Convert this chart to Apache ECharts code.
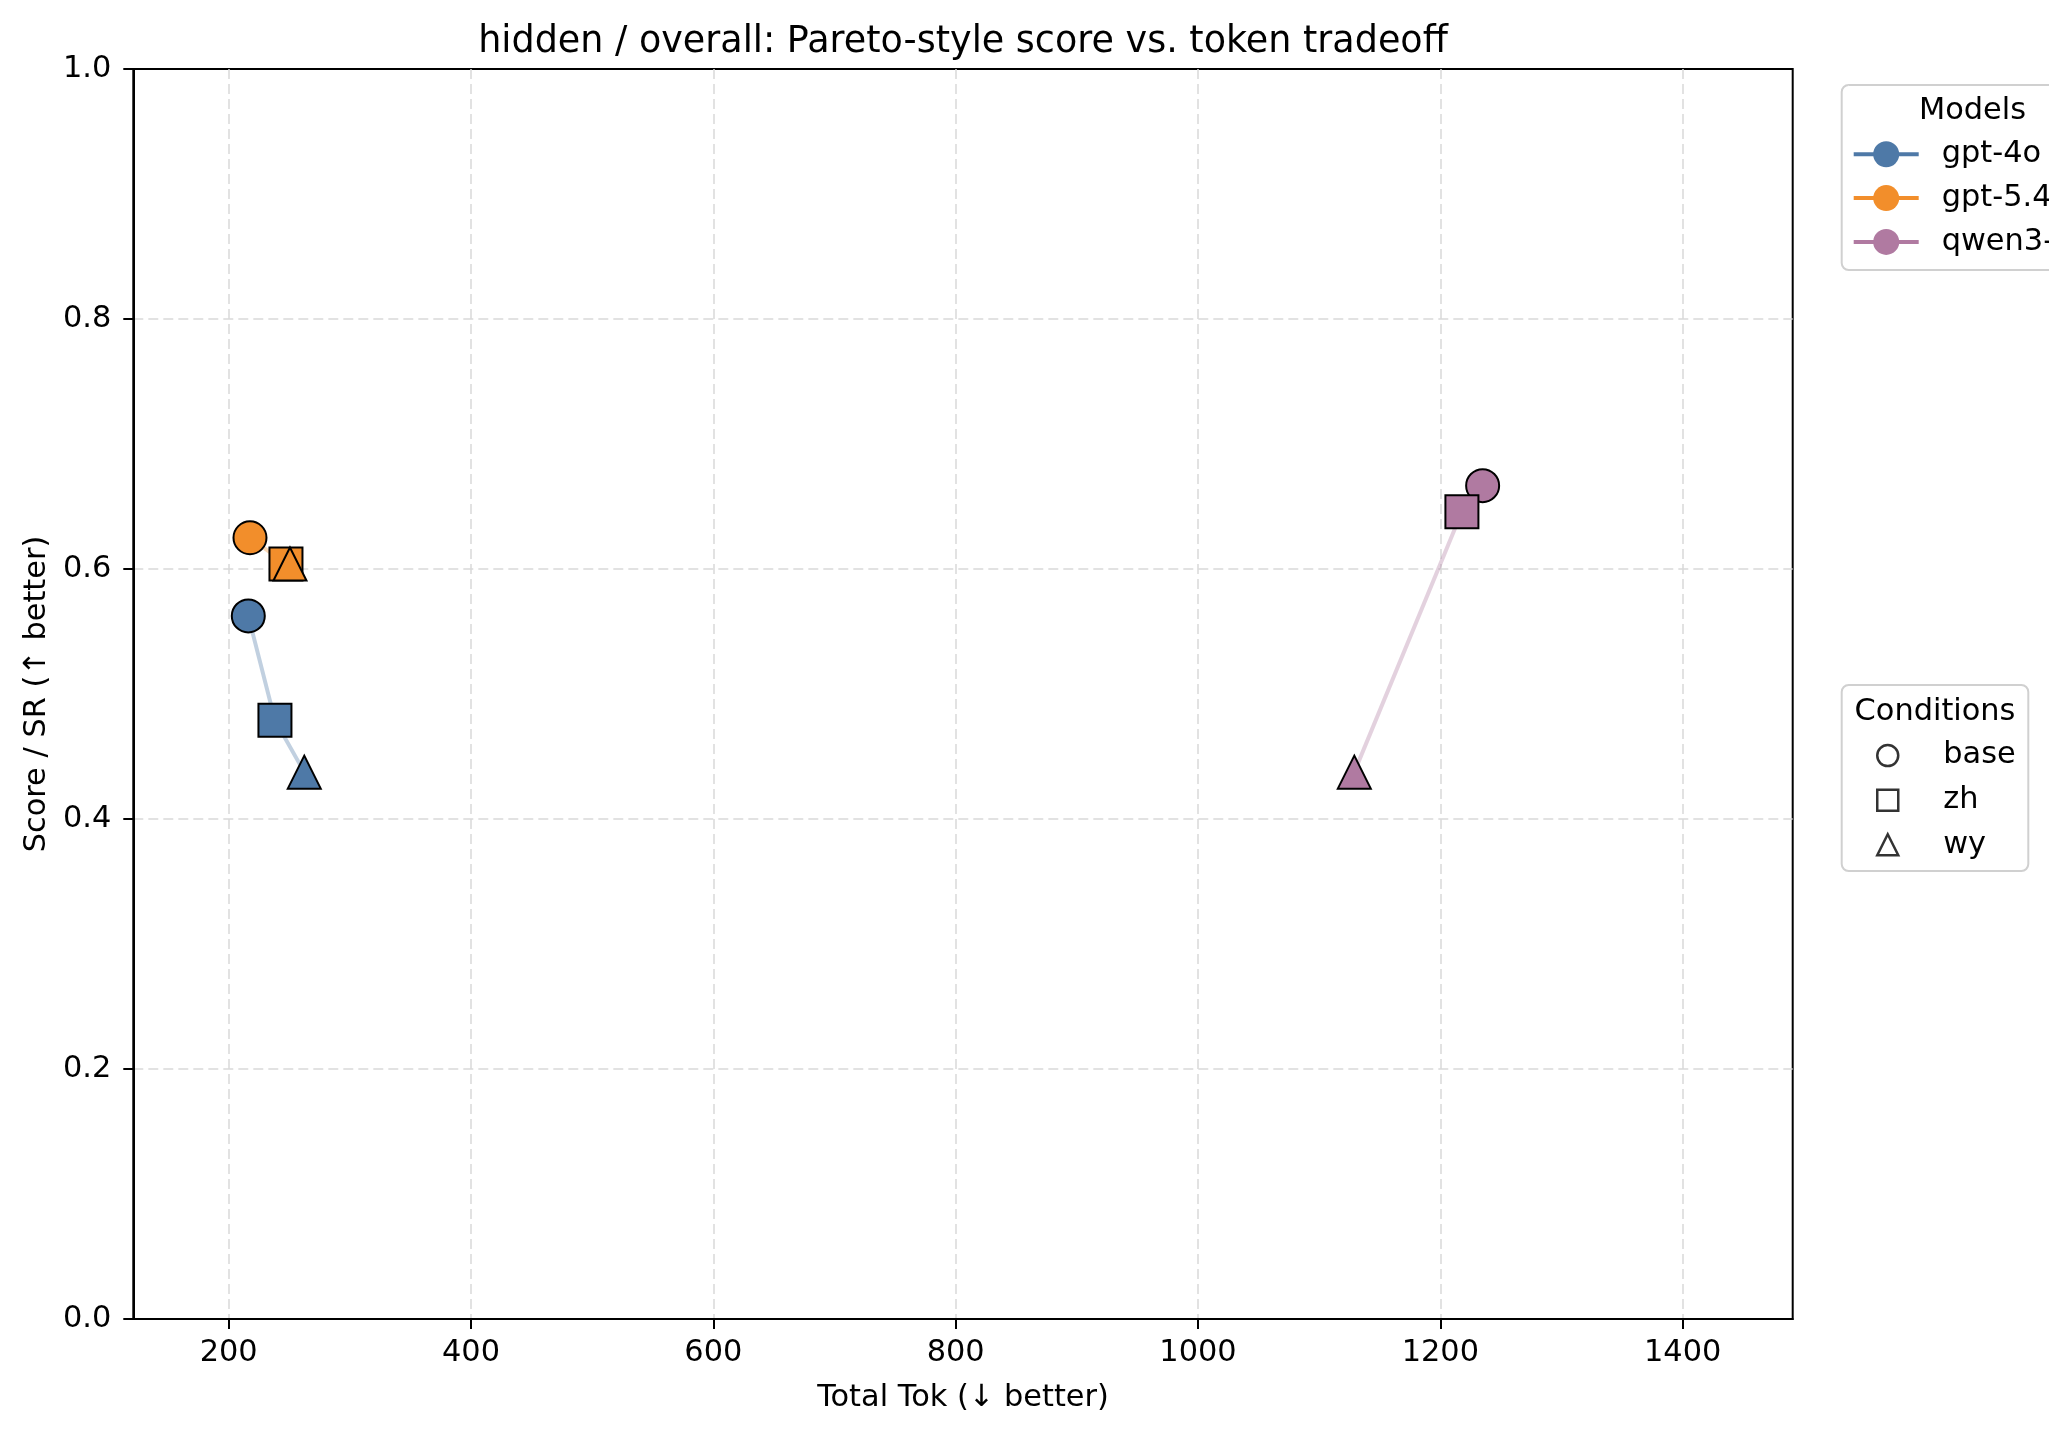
<!DOCTYPE html>
<html>
<head>
<meta charset="utf-8">
<script src="https://cdn.jsdelivr.net/npm/echarts@6/dist/echarts.min.js"></script>
<style>
  html, body { margin: 0; padding: 0; background: #fff; }
  #chart { width: 2049px; height: 1433px; }
</style>
</head>
<body>
<div id="chart"></div>
<script>
"use strict";

// data
var models = ["gpt-4o", "gpt-5.4", "qwen3-8b"];
var conditions = ["base", "zh", "wy"];
var condSymbols = ["circle", "rect", "triangle"];
var colors = ["#4e79a7", "#f28e2b", "#b07aa1"];

var tokGpt4o = [216.2, 238.2, 262.4];
var tokGpt54 = [217.6, 247.3, 250.6];
var tokQwen = [1234.9, 1217.8, 1129.0];

var scoreGpt4o = [0.5625, 0.479, 0.4375];
var scoreGpt54 = [0.625, 0.604, 0.604];
var scoreQwen = [0.6667, 0.6458, 0.4375];

var xTicks = [200, 400, 600, 800, 1000, 1200, 1400];
var xMin = 121.3, xMax = 1490.8;

var FONT = "DejaVu Sans";
var FS = 30.4;

var chart = echarts.init(document.getElementById("chart"), null, { renderer: "canvas" });

var tokens = [tokGpt4o, tokGpt54, tokQwen];
var scores = [scoreGpt4o, scoreGpt54, scoreQwen];

var series = models.map(function (m, i) {
    return {
        type: "line",
        name: m,
        silent: true,
        symbol: "circle",
        symbolSize: 33,
        z: 3 + i,
        itemStyle: { color: colors[i], borderColor: "#000", borderWidth: 2 },
        lineStyle: { color: colors[i], width: 4, opacity: 0.35 },
        emphasis: { disabled: true },
        data: tokens[i].map(function (t, j) {
            return { value: [t, scores[i][j]], symbol: condSymbols[j] };
        })
    };
});

// empty series, only for the condition legend
conditions.forEach(function (c, j) {
    series.push({
        type: "scatter",
        name: c,
        symbol: condSymbols[j],
        itemStyle: { color: "rgba(0,0,0,0)", borderColor: "#000", borderWidth: 2.5 },
        data: []
    });
});

var gridStyle = { color: "#d9d9d9", width: 1.5, type: [10, 5] };

var option = {
    animation: false,
    backgroundColor: "#fff",
    textStyle: { fontFamily: FONT },
    grid: {
        left: 133.3, right: 256.3, top: 69, bottom: 114,
        show: true, borderColor: "#000", borderWidth: 2
    },
    xAxis: {
        type: "value",
        min: xMin, max: xMax,
        splitNumber: 7,
        name: "Total Tok (↓ better)",
        nameLocation: "middle",
        nameGap: 64,
        nameTextStyle: { fontSize: FS, color: "#000", fontFamily: FONT },
        axisLine: { show: true, onZero: false, lineStyle: { color: "#000", width: 2 } },
        axisTick: { show: true, length: 10, lineStyle: { color: "#000", width: 2 }, customValues: xTicks },
        axisLabel: {
            fontSize: FS, color: "#000", fontFamily: FONT, margin: 19,
            customValues: xTicks,
            formatter: function (v) { return v % 200 === 0 ? String(v) : ""; }
        },
        splitLine: { show: true, lineStyle: gridStyle }
    },
    yAxis: {
        type: "value",
        min: 0, max: 1, interval: 0.2,
        name: "Score / SR (↑ better)",
        nameLocation: "middle",
        nameGap: 80.5,
        nameTextStyle: { fontSize: FS, color: "#000", fontFamily: FONT },
        axisLine: { show: true, onZero: false, lineStyle: { color: "#000", width: 2 } },
        axisTick: { show: true, length: 10, lineStyle: { color: "#000", width: 2 } },
        axisLabel: {
            fontSize: FS, color: "#000", fontFamily: FONT, margin: 22,
            formatter: function (v) { return v.toFixed(1); }
        },
        splitLine: { show: true, showMaxLine: false, lineStyle: gridStyle }
    },
    legend: [
        {
            data: models,
            orient: "vertical",
            left: 1851.7, top: 139.3,
            padding: 0,
            itemWidth: 65, itemHeight: 32.5, itemGap: 13.8,
            selectedMode: false,
            lineStyle: { width: 4, opacity: 1 },
            itemStyle: { borderWidth: 0 },
            textStyle: { fontSize: FS, color: "#000", fontFamily: FONT, padding: [0, 0, 0, 18] }
        },
        {
            data: conditions,
            orient: "vertical",
            left: 1876, top: 740.6,
            padding: 0,
            itemWidth: 21, itemHeight: 21, itemGap: 14.6,
            selectedMode: false,
            itemStyle: { color: "rgba(0,0,0,0)", borderColor: "#000", borderWidth: 2.5 },
            textStyle: { fontSize: FS, color: "#000", fontFamily: FONT, padding: [0, 0, 0, 40] }
        }
    ],
    graphic: [
        {
            type: "text", x: 963, y: 42.5, z: 10,
            style: {
                text: "hidden / overall: Pareto-style score vs. token tradeoff",
                fontSize: 36.5, fontFamily: FONT, fill: "#000",
                textAlign: "center", textVerticalAlign: "middle"
            }
        },
        {
            type: "rect", z: 0,
            shape: { x: 1841.7, y: 85, width: 320, height: 185, r: 7 },
            style: { fill: "rgba(255,255,255,0.8)", stroke: "#d0d0d0", lineWidth: 2 }
        },
        {
            type: "text", x: 1972.5, y: 111, z: 10,
            style: {
                text: "Models", fontSize: FS, fontFamily: FONT, fill: "#000",
                textAlign: "center", textVerticalAlign: "middle"
            }
        },
        {
            type: "rect", z: 0,
            shape: { x: 1841.7, y: 685, width: 186.6, height: 186, r: 7 },
            style: { fill: "rgba(255,255,255,0.8)", stroke: "#d0d0d0", lineWidth: 2 }
        },
        {
            type: "text", x: 1935, y: 712.5, z: 10,
            style: {
                text: "Conditions", fontSize: FS, fontFamily: FONT, fill: "#000",
                textAlign: "center", textVerticalAlign: "middle"
            }
        }
    ],
    series: series
};

chart.setOption(option);
</script>
</body>
</html>
